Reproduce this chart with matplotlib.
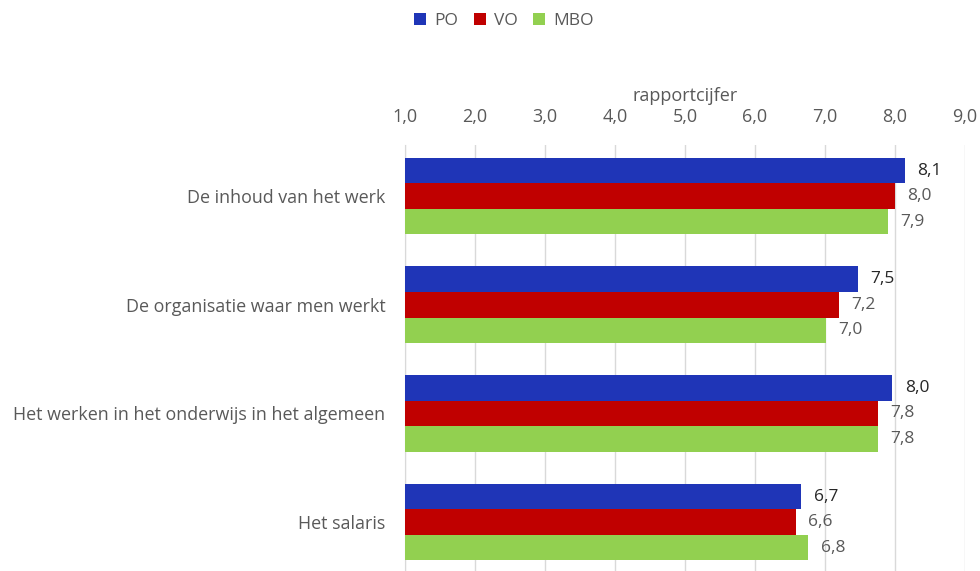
import numpy as np
import matplotlib.pyplot as plt

categories = ['De inhoud van het werk', 'De organisatie waar men werkt',
              'Het werken in het onderwijs in het algemeen', 'Het salaris']
po = [8.14, 7.47, 7.96, 6.66]
vo = [8.00, 7.20, 7.76, 6.58]
mbo = [7.90, 7.01, 7.76, 6.76]
series_names = ['PO', 'VO', 'MBO']
colors = ['#1F35B7', '#C00000', '#92D050']
label_colors = ['#262626', '#595959', '#595959']
xticks = [1, 2, 3, 4, 5, 6, 7, 8, 9]

plt.rcParams['font.family'] = ['Open Sans', 'DejaVu Sans']

fig = plt.figure(figsize=(9.8, 5.71), dpi=100)
ax = fig.add_axes([405 / 980, 0, 560 / 980, 1 - 145 / 571])

y = np.arange(len(categories))
h = 0.235
for i, (vals, name) in enumerate(zip([po, vo, mbo], series_names)):
    pos = y + (i - 1) * h
    bars = ax.barh(pos, np.array(vals) - 1, left=1, height=h, color=colors[i],
                   label=name, zorder=3)
    for b, v in zip(bars, vals):
        ax.annotate(f'{v:.1f}'.replace('.', ','), (v, b.get_y() + h / 2),
                    xytext=(9, 0), textcoords='offset points', va='center',
                    ha='left', fontsize=12.5, color=label_colors[i])

ax.set_xlim(1, 9)
ax.set_ylim(3.45, -0.47)
ax.set_yticks(y)
ax.set_yticklabels(categories, fontsize=12.9, color='#595959')
ax.set_xticks(xticks)
ax.set_xticklabels([f'{t:.1f}'.replace('.', ',') for t in xticks],
                   fontsize=13, color='#595959')
ax.xaxis.tick_top()
ax.xaxis.set_label_position('top')
ax.set_xlabel('rapportcijfer', fontsize=13, color='#595959', labelpad=5)
ax.tick_params(axis='x', length=0, pad=14)
ax.tick_params(axis='y', length=0, pad=14)
ax.grid(axis='x', color='#D9D9D9', linewidth=1, zorder=0)
for s in ['top', 'right', 'bottom']:
    ax.spines[s].set_visible(False)
ax.spines['left'].set_color('#D9D9D9')

fig.legend(loc='center', bbox_to_anchor=(0.514, 1 - 21 / 571), ncol=3,
           frameon=False, fontsize=12.5, handlelength=0.7, handleheight=0.7,
           handletextpad=0.45, columnspacing=0.9, labelcolor='#595959')

fig.savefig('out.png', dpi=100)
